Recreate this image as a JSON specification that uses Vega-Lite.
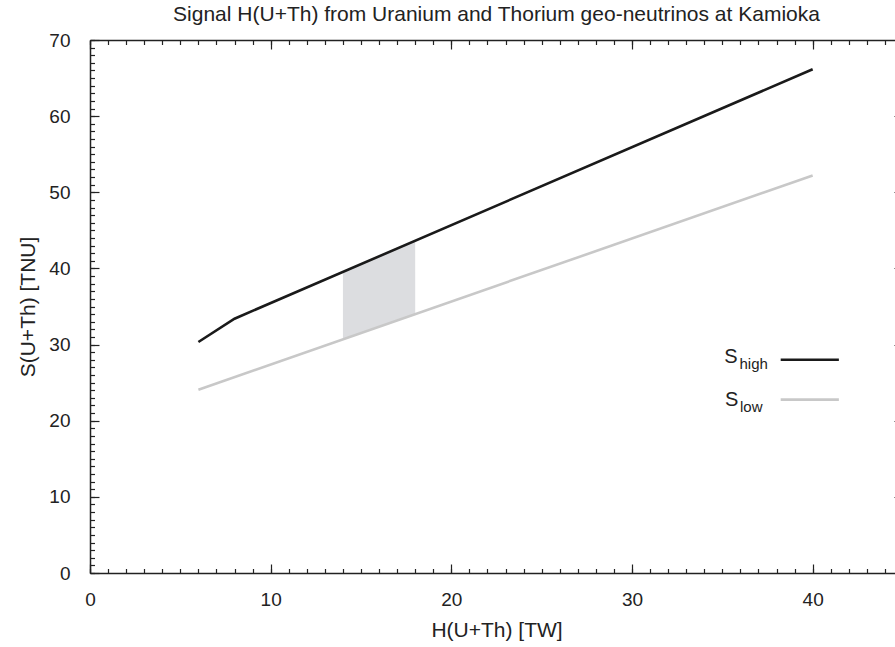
{
  "$schema": "https://vega.github.io/schema/vega-lite/v6.json",
  "width": 813,
  "height": 533,
  "autosize": {"type": "none"},
  "padding": {"left": 90, "top": 40, "right": 0, "bottom": 74},
  "title": {
    "text": "Signal H(U+Th) from Uranium and Thorium geo-neutrinos at Kamioka",
    "font": "Liberation Sans",
    "fontSize": 21,
    "fontWeight": "normal",
    "color": "#222222",
    "anchor": "middle",
    "offset": 6
  },
  "config": {
    "view": {"stroke": null},
    "axis": {
      "grid": false,
      "domainColor": "#222222",
      "tickColor": "#222222",
      "domainWidth": 1.5,
      "tickWidth": 1.2,
      "labelFont": "Liberation Sans",
      "titleFont": "Liberation Sans",
      "labelFontSize": 19,
      "titleFontSize": 21,
      "titleFontWeight": "normal",
      "labelColor": "#222222",
      "titleColor": "#222222",
      "labelFlush": false
    }
  },
  "datasets": {
    "curves": [
      {"H": 6, "S": 30.34, "series": "high"},
      {"H": 8, "S": 33.4, "series": "high"},
      {"H": 40, "S": 66.16, "series": "high"},
      {"H": 6, "S": 24.08, "series": "low"},
      {"H": 40, "S": 52.2, "series": "low"}
    ],
    "band": [
      {"H": 14, "lo": 30.7, "hi": 39.54},
      {"H": 18, "lo": 34.0, "hi": 43.64}
    ]
  },
  "layer": [
    {
      "data": {"name": "band"},
      "mark": {"type": "area", "color": "#dcdde0", "opacity": 1},
      "encoding": {
        "x": {
          "field": "H", "type": "quantitative",
          "scale": {"domain": [0, 45], "nice": false, "zero": false},
          "axis": {"orient": "bottom", "values": [0, 10, 20, 30, 40], "tickSize": -9, "labelPadding": 26, "format": "d", "title": "H(U+Th) [TW]", "titlePadding": 10}
        },
        "y": {
          "field": "lo", "type": "quantitative",
          "scale": {"domain": [0, 70], "nice": false, "zero": false},
          "axis": {"orient": "left", "values": [0, 10, 20, 30, 40, 50, 60, 70], "tickSize": -9, "labelPadding": 29, "format": "d", "title": "S(U+Th) [TNU]", "titlePadding": 10}
        },
        "y2": {"field": "hi"}
      }
    },
    {
      "data": {"name": "curves"},
      "mark": {"type": "line", "strokeWidth": 2.6},
      "encoding": {
        "x": {
          "field": "H", "type": "quantitative",
          "axis": {"orient": "bottom", "values": [0,1,2,3,4,5,6,7,8,9,10,11,12,13,14,15,16,17,18,19,20,21,22,23,24,25,26,27,28,29,30,31,32,33,34,35,36,37,38,39,40,41,42,43,44,45], "tickSize": -4.5, "labels": false, "domain": false, "title": null}
        },
        "y": {
          "field": "S", "type": "quantitative",
          "axis": {"orient": "left", "values": [0,1,2,3,4,5,6,7,8,9,10,11,12,13,14,15,16,17,18,19,20,21,22,23,24,25,26,27,28,29,30,31,32,33,34,35,36,37,38,39,40,41,42,43,44,45,46,47,48,49,50,51,52,53,54,55,56,57,58,59,60,61,62,63,64,65,66,67,68,69,70], "tickSize": -4.5, "labels": false, "domain": false, "title": null}
        },
        "color": {
          "field": "series", "type": "nominal",
          "scale": {"domain": ["high", "low"], "range": ["#1a1a1a", "#c8c8c8"]},
          "legend": null
        }
      }
    },
    {
      "data": {"values": [{"series": "high"}]},
      "mark": {"type": "rule", "strokeWidth": 2.6, "color": "#1a1a1a"},
      "encoding": {
        "x": {"datum": 38.23, "type": "quantitative", "axis": {"orient": "top", "values": [0, 10, 20, 30, 40], "tickSize": -9, "labels": false, "title": null}},
        "x2": {"datum": 41.45},
        "y": {"datum": 28.0, "type": "quantitative", "axis": {"orient": "right", "values": [0, 10, 20, 30, 40, 50, 60, 70], "tickSize": -9, "labels": false, "title": null}}
      }
    },
    {
      "data": {"values": [{"series": "low"}]},
      "mark": {"type": "rule", "strokeWidth": 2.6, "color": "#c8c8c8"},
      "encoding": {
        "x": {"datum": 38.23, "type": "quantitative", "axis": {"orient": "top", "values": [0,1,2,3,4,5,6,7,8,9,10,11,12,13,14,15,16,17,18,19,20,21,22,23,24,25,26,27,28,29,30,31,32,33,34,35,36,37,38,39,40,41,42,43,44,45], "tickSize": -4.5, "labels": false, "domain": false, "title": null}},
        "x2": {"datum": 41.45},
        "y": {"datum": 22.77, "type": "quantitative", "axis": null}
      }
    },
    {
      "data": {"values": [{"label": "S"}]},
      "mark": {"type": "text", "font": "Liberation Sans", "fontSize": 20, "align": "left", "baseline": "alphabetic", "color": "#222222"},
      "encoding": {
        "x": {"datum": 35.1, "type": "quantitative", "axis": null},
        "y": {"datum": 27.62, "type": "quantitative", "axis": null},
        "text": {"field": "label"}
      }
    },
    {
      "data": {"values": [{"label": "high"}]},
      "mark": {"type": "text", "font": "Liberation Sans", "fontSize": 15, "align": "left", "baseline": "alphabetic", "color": "#222222"},
      "encoding": {
        "x": {"datum": 35.95, "type": "quantitative", "axis": null},
        "y": {"datum": 26.83, "type": "quantitative", "axis": null},
        "text": {"field": "label"}
      }
    },
    {
      "data": {"values": [{"label": "S"}]},
      "mark": {"type": "text", "font": "Liberation Sans", "fontSize": 20, "align": "left", "baseline": "alphabetic", "color": "#222222"},
      "encoding": {
        "x": {"datum": 35.15, "type": "quantitative", "axis": null},
        "y": {"datum": 21.98, "type": "quantitative", "axis": null},
        "text": {"field": "label"}
      }
    },
    {
      "data": {"values": [{"label": "low"}]},
      "mark": {"type": "text", "font": "Liberation Sans", "fontSize": 15, "align": "left", "baseline": "alphabetic", "color": "#222222"},
      "encoding": {
        "x": {"datum": 35.98, "type": "quantitative", "axis": null},
        "y": {"datum": 21.19, "type": "quantitative", "axis": null},
        "text": {"field": "label"}
      }
    }
  ],
  "resolve": {"axis": {"x": "independent", "y": "independent"}}
}
